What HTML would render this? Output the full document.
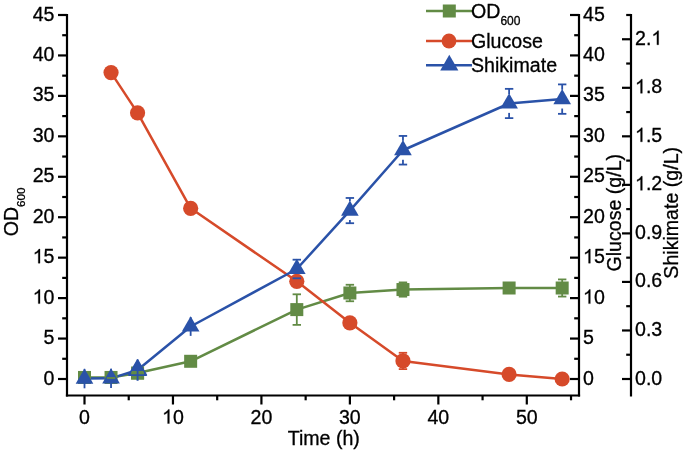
<!DOCTYPE html>
<html><head><meta charset="utf-8"><title>Chart</title>
<style>
html,body{margin:0;padding:0;background:#fff;}
body{width:685px;height:452px;overflow:hidden;font-family:"Liberation Sans",sans-serif;}
svg{display:block;filter:blur(0.35px);}
</style></head>
<body>
<svg width="685" height="452" viewBox="0 0 685 452">
<rect width="685" height="452" fill="#fff"/>
<line x1="67" y1="13.9" x2="67" y2="396.6" stroke="#000" stroke-width="2.2" stroke-linecap="butt"/>
<line x1="58" y1="379" x2="67" y2="379" stroke="#000" stroke-width="2.2" stroke-linecap="butt"/>
<line x1="62.2" y1="358.78" x2="67" y2="358.78" stroke="#000" stroke-width="2.2" stroke-linecap="butt"/>
<line x1="58" y1="338.56" x2="67" y2="338.56" stroke="#000" stroke-width="2.2" stroke-linecap="butt"/>
<line x1="62.2" y1="318.33" x2="67" y2="318.33" stroke="#000" stroke-width="2.2" stroke-linecap="butt"/>
<line x1="58" y1="298.11" x2="67" y2="298.11" stroke="#000" stroke-width="2.2" stroke-linecap="butt"/>
<line x1="62.2" y1="277.89" x2="67" y2="277.89" stroke="#000" stroke-width="2.2" stroke-linecap="butt"/>
<line x1="58" y1="257.66" x2="67" y2="257.66" stroke="#000" stroke-width="2.2" stroke-linecap="butt"/>
<line x1="62.2" y1="237.44" x2="67" y2="237.44" stroke="#000" stroke-width="2.2" stroke-linecap="butt"/>
<line x1="58" y1="217.22" x2="67" y2="217.22" stroke="#000" stroke-width="2.2" stroke-linecap="butt"/>
<line x1="62.2" y1="197" x2="67" y2="197" stroke="#000" stroke-width="2.2" stroke-linecap="butt"/>
<line x1="58" y1="176.77" x2="67" y2="176.77" stroke="#000" stroke-width="2.2" stroke-linecap="butt"/>
<line x1="62.2" y1="156.55" x2="67" y2="156.55" stroke="#000" stroke-width="2.2" stroke-linecap="butt"/>
<line x1="58" y1="136.33" x2="67" y2="136.33" stroke="#000" stroke-width="2.2" stroke-linecap="butt"/>
<line x1="62.2" y1="116.11" x2="67" y2="116.11" stroke="#000" stroke-width="2.2" stroke-linecap="butt"/>
<line x1="58" y1="95.88" x2="67" y2="95.88" stroke="#000" stroke-width="2.2" stroke-linecap="butt"/>
<line x1="62.2" y1="75.66" x2="67" y2="75.66" stroke="#000" stroke-width="2.2" stroke-linecap="butt"/>
<line x1="58" y1="55.44" x2="67" y2="55.44" stroke="#000" stroke-width="2.2" stroke-linecap="butt"/>
<line x1="62.2" y1="35.22" x2="67" y2="35.22" stroke="#000" stroke-width="2.2" stroke-linecap="butt"/>
<line x1="58" y1="15" x2="67" y2="15" stroke="#000" stroke-width="2.2" stroke-linecap="butt"/>
<line x1="579" y1="13.9" x2="579" y2="396.6" stroke="#000" stroke-width="2.2" stroke-linecap="butt"/>
<line x1="570" y1="379" x2="579" y2="379" stroke="#000" stroke-width="2.2" stroke-linecap="butt"/>
<line x1="574.2" y1="358.78" x2="579" y2="358.78" stroke="#000" stroke-width="2.2" stroke-linecap="butt"/>
<line x1="570" y1="338.56" x2="579" y2="338.56" stroke="#000" stroke-width="2.2" stroke-linecap="butt"/>
<line x1="574.2" y1="318.33" x2="579" y2="318.33" stroke="#000" stroke-width="2.2" stroke-linecap="butt"/>
<line x1="570" y1="298.11" x2="579" y2="298.11" stroke="#000" stroke-width="2.2" stroke-linecap="butt"/>
<line x1="574.2" y1="277.89" x2="579" y2="277.89" stroke="#000" stroke-width="2.2" stroke-linecap="butt"/>
<line x1="570" y1="257.66" x2="579" y2="257.66" stroke="#000" stroke-width="2.2" stroke-linecap="butt"/>
<line x1="574.2" y1="237.44" x2="579" y2="237.44" stroke="#000" stroke-width="2.2" stroke-linecap="butt"/>
<line x1="570" y1="217.22" x2="579" y2="217.22" stroke="#000" stroke-width="2.2" stroke-linecap="butt"/>
<line x1="574.2" y1="197" x2="579" y2="197" stroke="#000" stroke-width="2.2" stroke-linecap="butt"/>
<line x1="570" y1="176.77" x2="579" y2="176.77" stroke="#000" stroke-width="2.2" stroke-linecap="butt"/>
<line x1="574.2" y1="156.55" x2="579" y2="156.55" stroke="#000" stroke-width="2.2" stroke-linecap="butt"/>
<line x1="570" y1="136.33" x2="579" y2="136.33" stroke="#000" stroke-width="2.2" stroke-linecap="butt"/>
<line x1="574.2" y1="116.11" x2="579" y2="116.11" stroke="#000" stroke-width="2.2" stroke-linecap="butt"/>
<line x1="570" y1="95.88" x2="579" y2="95.88" stroke="#000" stroke-width="2.2" stroke-linecap="butt"/>
<line x1="574.2" y1="75.66" x2="579" y2="75.66" stroke="#000" stroke-width="2.2" stroke-linecap="butt"/>
<line x1="570" y1="55.44" x2="579" y2="55.44" stroke="#000" stroke-width="2.2" stroke-linecap="butt"/>
<line x1="574.2" y1="35.22" x2="579" y2="35.22" stroke="#000" stroke-width="2.2" stroke-linecap="butt"/>
<line x1="570" y1="15" x2="579" y2="15" stroke="#000" stroke-width="2.2" stroke-linecap="butt"/>
<line x1="65.9" y1="395.5" x2="580.1" y2="395.5" stroke="#000" stroke-width="2.2" stroke-linecap="butt"/>
<line x1="84.5" y1="395.5" x2="84.5" y2="404.5" stroke="#000" stroke-width="2.2" stroke-linecap="butt"/>
<line x1="172.96" y1="395.5" x2="172.96" y2="404.5" stroke="#000" stroke-width="2.2" stroke-linecap="butt"/>
<line x1="261.42" y1="395.5" x2="261.42" y2="404.5" stroke="#000" stroke-width="2.2" stroke-linecap="butt"/>
<line x1="349.88" y1="395.5" x2="349.88" y2="404.5" stroke="#000" stroke-width="2.2" stroke-linecap="butt"/>
<line x1="438.34" y1="395.5" x2="438.34" y2="404.5" stroke="#000" stroke-width="2.2" stroke-linecap="butt"/>
<line x1="526.8" y1="395.5" x2="526.8" y2="404.5" stroke="#000" stroke-width="2.2" stroke-linecap="butt"/>
<line x1="128.73" y1="395.5" x2="128.73" y2="400.3" stroke="#000" stroke-width="2.2" stroke-linecap="butt"/>
<line x1="217.19" y1="395.5" x2="217.19" y2="400.3" stroke="#000" stroke-width="2.2" stroke-linecap="butt"/>
<line x1="305.65" y1="395.5" x2="305.65" y2="400.3" stroke="#000" stroke-width="2.2" stroke-linecap="butt"/>
<line x1="394.11" y1="395.5" x2="394.11" y2="400.3" stroke="#000" stroke-width="2.2" stroke-linecap="butt"/>
<line x1="482.57" y1="395.5" x2="482.57" y2="400.3" stroke="#000" stroke-width="2.2" stroke-linecap="butt"/>
<line x1="571.03" y1="395.5" x2="571.03" y2="400.3" stroke="#000" stroke-width="2.2" stroke-linecap="butt"/>
<line x1="631" y1="13.9" x2="631" y2="396.6" stroke="#000" stroke-width="2.2" stroke-linecap="butt"/>
<line x1="622" y1="379" x2="631" y2="379" stroke="#000" stroke-width="2.2" stroke-linecap="butt"/>
<line x1="622" y1="330.47" x2="631" y2="330.47" stroke="#000" stroke-width="2.2" stroke-linecap="butt"/>
<line x1="622" y1="281.93" x2="631" y2="281.93" stroke="#000" stroke-width="2.2" stroke-linecap="butt"/>
<line x1="622" y1="233.4" x2="631" y2="233.4" stroke="#000" stroke-width="2.2" stroke-linecap="butt"/>
<line x1="622" y1="184.86" x2="631" y2="184.86" stroke="#000" stroke-width="2.2" stroke-linecap="butt"/>
<line x1="622" y1="136.33" x2="631" y2="136.33" stroke="#000" stroke-width="2.2" stroke-linecap="butt"/>
<line x1="622" y1="87.8" x2="631" y2="87.8" stroke="#000" stroke-width="2.2" stroke-linecap="butt"/>
<line x1="622" y1="39.26" x2="631" y2="39.26" stroke="#000" stroke-width="2.2" stroke-linecap="butt"/>
<line x1="626.2" y1="354.73" x2="631" y2="354.73" stroke="#000" stroke-width="2.2" stroke-linecap="butt"/>
<line x1="626.2" y1="306.2" x2="631" y2="306.2" stroke="#000" stroke-width="2.2" stroke-linecap="butt"/>
<line x1="626.2" y1="257.66" x2="631" y2="257.66" stroke="#000" stroke-width="2.2" stroke-linecap="butt"/>
<line x1="626.2" y1="209.13" x2="631" y2="209.13" stroke="#000" stroke-width="2.2" stroke-linecap="butt"/>
<line x1="626.2" y1="160.6" x2="631" y2="160.6" stroke="#000" stroke-width="2.2" stroke-linecap="butt"/>
<line x1="626.2" y1="112.06" x2="631" y2="112.06" stroke="#000" stroke-width="2.2" stroke-linecap="butt"/>
<line x1="626.2" y1="63.53" x2="631" y2="63.53" stroke="#000" stroke-width="2.2" stroke-linecap="butt"/>
<line x1="626.2" y1="15" x2="631" y2="15" stroke="#000" stroke-width="2.2" stroke-linecap="butt"/>
<g transform="translate(43.6,384.5) scale(1,1.045)"><text x="0" y="0" font-family="Liberation Sans, sans-serif" font-size="19.6" fill="#000" stroke="#000" stroke-width="0.3">0</text></g>
<g transform="translate(583,384.5) scale(1,1.045)"><text x="0" y="0" font-family="Liberation Sans, sans-serif" font-size="19.6" fill="#000" stroke="#000" stroke-width="0.3">0</text></g>
<g transform="translate(43.6,344.06) scale(1,1.045)"><text x="0" y="0" font-family="Liberation Sans, sans-serif" font-size="19.6" fill="#000" stroke="#000" stroke-width="0.3">5</text></g>
<g transform="translate(583,344.06) scale(1,1.045)"><text x="0" y="0" font-family="Liberation Sans, sans-serif" font-size="19.6" fill="#000" stroke="#000" stroke-width="0.3">5</text></g>
<g transform="translate(32.7,303.61) scale(1,1.045)"><path d="M763 0L583 0L583 1147Q518 1085 412 1023Q307 961 223 930L223 1104Q374 1175 487 1276Q600 1377 647 1472L763 1472Z" transform="translate(0,0) scale(0.009570,-0.009158)" fill="#000" stroke="#000" stroke-width="0.3" vector-effect="non-scaling-stroke"/><text x="10.9" y="0" font-family="Liberation Sans, sans-serif" font-size="19.6" fill="#000" stroke="#000" stroke-width="0.3">0</text></g>
<g transform="translate(583,303.61) scale(1,1.045)"><path d="M763 0L583 0L583 1147Q518 1085 412 1023Q307 961 223 930L223 1104Q374 1175 487 1276Q600 1377 647 1472L763 1472Z" transform="translate(0,0) scale(0.009570,-0.009158)" fill="#000" stroke="#000" stroke-width="0.3" vector-effect="non-scaling-stroke"/><text x="10.9" y="0" font-family="Liberation Sans, sans-serif" font-size="19.6" fill="#000" stroke="#000" stroke-width="0.3">0</text></g>
<g transform="translate(32.7,263.16) scale(1,1.045)"><path d="M763 0L583 0L583 1147Q518 1085 412 1023Q307 961 223 930L223 1104Q374 1175 487 1276Q600 1377 647 1472L763 1472Z" transform="translate(0,0) scale(0.009570,-0.009158)" fill="#000" stroke="#000" stroke-width="0.3" vector-effect="non-scaling-stroke"/><text x="10.9" y="0" font-family="Liberation Sans, sans-serif" font-size="19.6" fill="#000" stroke="#000" stroke-width="0.3">5</text></g>
<g transform="translate(583,263.16) scale(1,1.045)"><path d="M763 0L583 0L583 1147Q518 1085 412 1023Q307 961 223 930L223 1104Q374 1175 487 1276Q600 1377 647 1472L763 1472Z" transform="translate(0,0) scale(0.009570,-0.009158)" fill="#000" stroke="#000" stroke-width="0.3" vector-effect="non-scaling-stroke"/><text x="10.9" y="0" font-family="Liberation Sans, sans-serif" font-size="19.6" fill="#000" stroke="#000" stroke-width="0.3">5</text></g>
<g transform="translate(32.7,222.72) scale(1,1.045)"><text x="0" y="0" font-family="Liberation Sans, sans-serif" font-size="19.6" fill="#000" stroke="#000" stroke-width="0.3">2</text><text x="10.9" y="0" font-family="Liberation Sans, sans-serif" font-size="19.6" fill="#000" stroke="#000" stroke-width="0.3">0</text></g>
<g transform="translate(583,222.72) scale(1,1.045)"><text x="0" y="0" font-family="Liberation Sans, sans-serif" font-size="19.6" fill="#000" stroke="#000" stroke-width="0.3">2</text><text x="10.9" y="0" font-family="Liberation Sans, sans-serif" font-size="19.6" fill="#000" stroke="#000" stroke-width="0.3">0</text></g>
<g transform="translate(32.7,182.27) scale(1,1.045)"><text x="0" y="0" font-family="Liberation Sans, sans-serif" font-size="19.6" fill="#000" stroke="#000" stroke-width="0.3">2</text><text x="10.9" y="0" font-family="Liberation Sans, sans-serif" font-size="19.6" fill="#000" stroke="#000" stroke-width="0.3">5</text></g>
<g transform="translate(583,182.27) scale(1,1.045)"><text x="0" y="0" font-family="Liberation Sans, sans-serif" font-size="19.6" fill="#000" stroke="#000" stroke-width="0.3">2</text><text x="10.9" y="0" font-family="Liberation Sans, sans-serif" font-size="19.6" fill="#000" stroke="#000" stroke-width="0.3">5</text></g>
<g transform="translate(32.7,141.83) scale(1,1.045)"><text x="0" y="0" font-family="Liberation Sans, sans-serif" font-size="19.6" fill="#000" stroke="#000" stroke-width="0.3">3</text><text x="10.9" y="0" font-family="Liberation Sans, sans-serif" font-size="19.6" fill="#000" stroke="#000" stroke-width="0.3">0</text></g>
<g transform="translate(583,141.83) scale(1,1.045)"><text x="0" y="0" font-family="Liberation Sans, sans-serif" font-size="19.6" fill="#000" stroke="#000" stroke-width="0.3">3</text><text x="10.9" y="0" font-family="Liberation Sans, sans-serif" font-size="19.6" fill="#000" stroke="#000" stroke-width="0.3">0</text></g>
<g transform="translate(32.7,101.38) scale(1,1.045)"><text x="0" y="0" font-family="Liberation Sans, sans-serif" font-size="19.6" fill="#000" stroke="#000" stroke-width="0.3">3</text><text x="10.9" y="0" font-family="Liberation Sans, sans-serif" font-size="19.6" fill="#000" stroke="#000" stroke-width="0.3">5</text></g>
<g transform="translate(583,101.38) scale(1,1.045)"><text x="0" y="0" font-family="Liberation Sans, sans-serif" font-size="19.6" fill="#000" stroke="#000" stroke-width="0.3">3</text><text x="10.9" y="0" font-family="Liberation Sans, sans-serif" font-size="19.6" fill="#000" stroke="#000" stroke-width="0.3">5</text></g>
<g transform="translate(32.7,60.94) scale(1,1.045)"><text x="0" y="0" font-family="Liberation Sans, sans-serif" font-size="19.6" fill="#000" stroke="#000" stroke-width="0.3">4</text><text x="10.9" y="0" font-family="Liberation Sans, sans-serif" font-size="19.6" fill="#000" stroke="#000" stroke-width="0.3">0</text></g>
<g transform="translate(583,60.94) scale(1,1.045)"><text x="0" y="0" font-family="Liberation Sans, sans-serif" font-size="19.6" fill="#000" stroke="#000" stroke-width="0.3">4</text><text x="10.9" y="0" font-family="Liberation Sans, sans-serif" font-size="19.6" fill="#000" stroke="#000" stroke-width="0.3">0</text></g>
<g transform="translate(32.7,20.5) scale(1,1.045)"><text x="0" y="0" font-family="Liberation Sans, sans-serif" font-size="19.6" fill="#000" stroke="#000" stroke-width="0.3">4</text><text x="10.9" y="0" font-family="Liberation Sans, sans-serif" font-size="19.6" fill="#000" stroke="#000" stroke-width="0.3">5</text></g>
<g transform="translate(583,20.5) scale(1,1.045)"><text x="0" y="0" font-family="Liberation Sans, sans-serif" font-size="19.6" fill="#000" stroke="#000" stroke-width="0.3">4</text><text x="10.9" y="0" font-family="Liberation Sans, sans-serif" font-size="19.6" fill="#000" stroke="#000" stroke-width="0.3">5</text></g>
<g transform="translate(635,384.5) scale(1,1.045)"><text x="0" y="0" font-family="Liberation Sans, sans-serif" font-size="19.6" fill="#000" stroke="#000" stroke-width="0.3">0</text><text x="10.9" y="0" font-family="Liberation Sans, sans-serif" font-size="19.6" fill="#000" stroke="#000" stroke-width="0.3">.</text><text x="16.35" y="0" font-family="Liberation Sans, sans-serif" font-size="19.6" fill="#000" stroke="#000" stroke-width="0.3">0</text></g>
<g transform="translate(635,335.97) scale(1,1.045)"><text x="0" y="0" font-family="Liberation Sans, sans-serif" font-size="19.6" fill="#000" stroke="#000" stroke-width="0.3">0</text><text x="10.9" y="0" font-family="Liberation Sans, sans-serif" font-size="19.6" fill="#000" stroke="#000" stroke-width="0.3">.</text><text x="16.35" y="0" font-family="Liberation Sans, sans-serif" font-size="19.6" fill="#000" stroke="#000" stroke-width="0.3">3</text></g>
<g transform="translate(635,287.43) scale(1,1.045)"><text x="0" y="0" font-family="Liberation Sans, sans-serif" font-size="19.6" fill="#000" stroke="#000" stroke-width="0.3">0</text><text x="10.9" y="0" font-family="Liberation Sans, sans-serif" font-size="19.6" fill="#000" stroke="#000" stroke-width="0.3">.</text><text x="16.35" y="0" font-family="Liberation Sans, sans-serif" font-size="19.6" fill="#000" stroke="#000" stroke-width="0.3">6</text></g>
<g transform="translate(635,238.9) scale(1,1.045)"><text x="0" y="0" font-family="Liberation Sans, sans-serif" font-size="19.6" fill="#000" stroke="#000" stroke-width="0.3">0</text><text x="10.9" y="0" font-family="Liberation Sans, sans-serif" font-size="19.6" fill="#000" stroke="#000" stroke-width="0.3">.</text><text x="16.35" y="0" font-family="Liberation Sans, sans-serif" font-size="19.6" fill="#000" stroke="#000" stroke-width="0.3">9</text></g>
<g transform="translate(635,190.36) scale(1,1.045)"><path d="M763 0L583 0L583 1147Q518 1085 412 1023Q307 961 223 930L223 1104Q374 1175 487 1276Q600 1377 647 1472L763 1472Z" transform="translate(0,0) scale(0.009570,-0.009158)" fill="#000" stroke="#000" stroke-width="0.3" vector-effect="non-scaling-stroke"/><text x="10.9" y="0" font-family="Liberation Sans, sans-serif" font-size="19.6" fill="#000" stroke="#000" stroke-width="0.3">.</text><text x="16.35" y="0" font-family="Liberation Sans, sans-serif" font-size="19.6" fill="#000" stroke="#000" stroke-width="0.3">2</text></g>
<g transform="translate(635,141.83) scale(1,1.045)"><path d="M763 0L583 0L583 1147Q518 1085 412 1023Q307 961 223 930L223 1104Q374 1175 487 1276Q600 1377 647 1472L763 1472Z" transform="translate(0,0) scale(0.009570,-0.009158)" fill="#000" stroke="#000" stroke-width="0.3" vector-effect="non-scaling-stroke"/><text x="10.9" y="0" font-family="Liberation Sans, sans-serif" font-size="19.6" fill="#000" stroke="#000" stroke-width="0.3">.</text><text x="16.35" y="0" font-family="Liberation Sans, sans-serif" font-size="19.6" fill="#000" stroke="#000" stroke-width="0.3">5</text></g>
<g transform="translate(635,93.3) scale(1,1.045)"><path d="M763 0L583 0L583 1147Q518 1085 412 1023Q307 961 223 930L223 1104Q374 1175 487 1276Q600 1377 647 1472L763 1472Z" transform="translate(0,0) scale(0.009570,-0.009158)" fill="#000" stroke="#000" stroke-width="0.3" vector-effect="non-scaling-stroke"/><text x="10.9" y="0" font-family="Liberation Sans, sans-serif" font-size="19.6" fill="#000" stroke="#000" stroke-width="0.3">.</text><text x="16.35" y="0" font-family="Liberation Sans, sans-serif" font-size="19.6" fill="#000" stroke="#000" stroke-width="0.3">8</text></g>
<g transform="translate(635,44.76) scale(1,1.045)"><text x="0" y="0" font-family="Liberation Sans, sans-serif" font-size="19.6" fill="#000" stroke="#000" stroke-width="0.3">2</text><text x="10.9" y="0" font-family="Liberation Sans, sans-serif" font-size="19.6" fill="#000" stroke="#000" stroke-width="0.3">.</text><path d="M763 0L583 0L583 1147Q518 1085 412 1023Q307 961 223 930L223 1104Q374 1175 487 1276Q600 1377 647 1472L763 1472Z" transform="translate(16.35,0) scale(0.009570,-0.009158)" fill="#000" stroke="#000" stroke-width="0.3" vector-effect="non-scaling-stroke"/></g>
<g transform="translate(79.05,423.5) scale(1,1.045)"><text x="0" y="0" font-family="Liberation Sans, sans-serif" font-size="19.6" fill="#000" stroke="#000" stroke-width="0.3">0</text></g>
<g transform="translate(162.06,423.5) scale(1,1.045)"><path d="M763 0L583 0L583 1147Q518 1085 412 1023Q307 961 223 930L223 1104Q374 1175 487 1276Q600 1377 647 1472L763 1472Z" transform="translate(0,0) scale(0.009570,-0.009158)" fill="#000" stroke="#000" stroke-width="0.3" vector-effect="non-scaling-stroke"/><text x="10.9" y="0" font-family="Liberation Sans, sans-serif" font-size="19.6" fill="#000" stroke="#000" stroke-width="0.3">0</text></g>
<g transform="translate(250.52,423.5) scale(1,1.045)"><text x="0" y="0" font-family="Liberation Sans, sans-serif" font-size="19.6" fill="#000" stroke="#000" stroke-width="0.3">2</text><text x="10.9" y="0" font-family="Liberation Sans, sans-serif" font-size="19.6" fill="#000" stroke="#000" stroke-width="0.3">0</text></g>
<g transform="translate(338.98,423.5) scale(1,1.045)"><text x="0" y="0" font-family="Liberation Sans, sans-serif" font-size="19.6" fill="#000" stroke="#000" stroke-width="0.3">3</text><text x="10.9" y="0" font-family="Liberation Sans, sans-serif" font-size="19.6" fill="#000" stroke="#000" stroke-width="0.3">0</text></g>
<g transform="translate(427.44,423.5) scale(1,1.045)"><text x="0" y="0" font-family="Liberation Sans, sans-serif" font-size="19.6" fill="#000" stroke="#000" stroke-width="0.3">4</text><text x="10.9" y="0" font-family="Liberation Sans, sans-serif" font-size="19.6" fill="#000" stroke="#000" stroke-width="0.3">0</text></g>
<g transform="translate(515.9,423.5) scale(1,1.045)"><text x="0" y="0" font-family="Liberation Sans, sans-serif" font-size="19.6" fill="#000" stroke="#000" stroke-width="0.3">5</text><text x="10.9" y="0" font-family="Liberation Sans, sans-serif" font-size="19.6" fill="#000" stroke="#000" stroke-width="0.3">0</text></g>
<text x="323.8" y="444.5" text-anchor="middle" font-family="Liberation Sans, sans-serif" font-size="19.6" fill="#000" stroke="#000" stroke-width="0.3" >Time (h)</text>
<text transform="translate(17.7,212.0) rotate(-90)" text-anchor="middle" font-family="Liberation Sans, sans-serif" font-size="19.6" fill="#000" stroke="#000" stroke-width="0.3">OD<tspan font-size="11.6" dy="7.3">600</tspan></text>
<text transform="translate(620.7,212.7) rotate(-90)" text-anchor="middle" font-family="Liberation Sans, sans-serif" font-size="19.6" fill="#000" stroke="#000" stroke-width="0.3">Glucose (g/L)</text>
<text transform="translate(677.6,212.8) rotate(-90)" text-anchor="middle" font-family="Liberation Sans, sans-serif" font-size="19.6" fill="#000" stroke="#000" stroke-width="0.3">Shikimate (g/L)</text>
<polyline points="84.5,377.46 111.04,377.46 137.58,373.01 190.65,361.29 296.8,309.6 349.88,293.01 402.96,289.54 509.11,288 562.18,288" fill="none" stroke="#628B45" stroke-width="2.5" stroke-linejoin="round"/>
<polyline points="111.04,72.59 137.58,112.87 190.65,208.32 296.8,281.28 349.88,322.78 402.96,360.96 509.11,374.47 562.18,379" fill="none" stroke="#D64A2A" stroke-width="2.5" stroke-linejoin="round"/>
<polyline points="84.5,378.6 111.04,378.35 137.58,370.02 190.65,326.5 296.8,268.99 349.88,210.59 402.96,150.24 509.11,103.49 562.18,99.12" fill="none" stroke="#2A52A8" stroke-width="2.5" stroke-linejoin="round"/>
<line x1="296.8" y1="294.31" x2="296.8" y2="324.88" stroke="#628B45" stroke-width="1.8" stroke-linecap="butt"/>
<line x1="292.6" y1="294.31" x2="301" y2="294.31" stroke="#628B45" stroke-width="1.8" stroke-linecap="butt"/>
<line x1="292.6" y1="324.88" x2="301" y2="324.88" stroke="#628B45" stroke-width="1.8" stroke-linecap="butt"/>
<line x1="349.88" y1="284.76" x2="349.88" y2="301.26" stroke="#628B45" stroke-width="1.8" stroke-linecap="butt"/>
<line x1="345.68" y1="284.76" x2="354.08" y2="284.76" stroke="#628B45" stroke-width="1.8" stroke-linecap="butt"/>
<line x1="345.68" y1="301.26" x2="354.08" y2="301.26" stroke="#628B45" stroke-width="1.8" stroke-linecap="butt"/>
<line x1="402.96" y1="282.42" x2="402.96" y2="296.65" stroke="#628B45" stroke-width="1.8" stroke-linecap="butt"/>
<line x1="398.76" y1="282.42" x2="407.16" y2="282.42" stroke="#628B45" stroke-width="1.8" stroke-linecap="butt"/>
<line x1="398.76" y1="296.65" x2="407.16" y2="296.65" stroke="#628B45" stroke-width="1.8" stroke-linecap="butt"/>
<line x1="562.18" y1="279.42" x2="562.18" y2="296.57" stroke="#628B45" stroke-width="1.8" stroke-linecap="butt"/>
<line x1="557.98" y1="279.42" x2="566.38" y2="279.42" stroke="#628B45" stroke-width="1.8" stroke-linecap="butt"/>
<line x1="557.98" y1="296.57" x2="566.38" y2="296.57" stroke="#628B45" stroke-width="1.8" stroke-linecap="butt"/>
<rect x="78" y="370.96" width="13" height="13" fill="#628B45"/>
<rect x="104.54" y="370.96" width="13" height="13" fill="#628B45"/>
<rect x="131.08" y="366.51" width="13" height="13" fill="#628B45"/>
<rect x="184.15" y="354.79" width="13" height="13" fill="#628B45"/>
<rect x="290.3" y="303.1" width="13" height="13" fill="#628B45"/>
<rect x="343.38" y="286.51" width="13" height="13" fill="#628B45"/>
<rect x="396.46" y="283.04" width="13" height="13" fill="#628B45"/>
<rect x="502.61" y="281.5" width="13" height="13" fill="#628B45"/>
<rect x="555.68" y="281.5" width="13" height="13" fill="#628B45"/>
<line x1="402.96" y1="352.79" x2="402.96" y2="369.13" stroke="#D64A2A" stroke-width="1.8" stroke-linecap="butt"/>
<line x1="398.76" y1="352.79" x2="407.16" y2="352.79" stroke="#D64A2A" stroke-width="1.8" stroke-linecap="butt"/>
<line x1="398.76" y1="369.13" x2="407.16" y2="369.13" stroke="#D64A2A" stroke-width="1.8" stroke-linecap="butt"/>
<circle cx="111.04" cy="72.59" r="7.6" fill="#D64A2A"/>
<circle cx="137.58" cy="112.87" r="7.6" fill="#D64A2A"/>
<circle cx="190.65" cy="208.32" r="7.6" fill="#D64A2A"/>
<circle cx="296.8" cy="281.28" r="7.6" fill="#D64A2A"/>
<circle cx="349.88" cy="322.78" r="7.6" fill="#D64A2A"/>
<circle cx="402.96" cy="360.96" r="7.6" fill="#D64A2A"/>
<circle cx="509.11" cy="374.47" r="7.6" fill="#D64A2A"/>
<circle cx="562.18" cy="379" r="7.6" fill="#D64A2A"/>
<line x1="84.5" y1="368.89" x2="84.5" y2="388.3" stroke="#2A52A8" stroke-width="1.8" stroke-linecap="butt"/>
<line x1="111.04" y1="368.65" x2="111.04" y2="388.06" stroke="#2A52A8" stroke-width="1.8" stroke-linecap="butt"/>
<line x1="137.58" y1="359.51" x2="137.58" y2="380.54" stroke="#2A52A8" stroke-width="1.8" stroke-linecap="butt"/>
<line x1="190.65" y1="317.12" x2="190.65" y2="335.89" stroke="#2A52A8" stroke-width="1.8" stroke-linecap="butt"/>
<line x1="292.6" y1="259.69" x2="301" y2="259.69" stroke="#2A52A8" stroke-width="1.8" stroke-linecap="butt"/>
<line x1="292.6" y1="278.29" x2="301" y2="278.29" stroke="#2A52A8" stroke-width="1.8" stroke-linecap="butt"/>
<line x1="349.88" y1="197.97" x2="349.88" y2="201.19" stroke="#2A52A8" stroke-width="1.8" stroke-linecap="butt"/>
<line x1="349.88" y1="219.99" x2="349.88" y2="223.21" stroke="#2A52A8" stroke-width="1.8" stroke-linecap="butt"/>
<line x1="345.68" y1="197.97" x2="354.08" y2="197.97" stroke="#2A52A8" stroke-width="1.8" stroke-linecap="butt"/>
<line x1="345.68" y1="223.21" x2="354.08" y2="223.21" stroke="#2A52A8" stroke-width="1.8" stroke-linecap="butt"/>
<line x1="402.96" y1="135.93" x2="402.96" y2="140.84" stroke="#2A52A8" stroke-width="1.8" stroke-linecap="butt"/>
<line x1="402.96" y1="159.64" x2="402.96" y2="164.56" stroke="#2A52A8" stroke-width="1.8" stroke-linecap="butt"/>
<line x1="398.76" y1="135.93" x2="407.16" y2="135.93" stroke="#2A52A8" stroke-width="1.8" stroke-linecap="butt"/>
<line x1="398.76" y1="164.56" x2="407.16" y2="164.56" stroke="#2A52A8" stroke-width="1.8" stroke-linecap="butt"/>
<line x1="509.11" y1="88.85" x2="509.11" y2="94.09" stroke="#2A52A8" stroke-width="1.8" stroke-linecap="butt"/>
<line x1="509.11" y1="112.89" x2="509.11" y2="118.13" stroke="#2A52A8" stroke-width="1.8" stroke-linecap="butt"/>
<line x1="504.91" y1="88.85" x2="513.31" y2="88.85" stroke="#2A52A8" stroke-width="1.8" stroke-linecap="butt"/>
<line x1="504.91" y1="118.13" x2="513.31" y2="118.13" stroke="#2A52A8" stroke-width="1.8" stroke-linecap="butt"/>
<line x1="562.18" y1="84.4" x2="562.18" y2="89.72" stroke="#2A52A8" stroke-width="1.8" stroke-linecap="butt"/>
<line x1="562.18" y1="108.52" x2="562.18" y2="113.84" stroke="#2A52A8" stroke-width="1.8" stroke-linecap="butt"/>
<line x1="557.98" y1="84.4" x2="566.38" y2="84.4" stroke="#2A52A8" stroke-width="1.8" stroke-linecap="butt"/>
<line x1="557.98" y1="113.84" x2="566.38" y2="113.84" stroke="#2A52A8" stroke-width="1.8" stroke-linecap="butt"/>
<polygon points="84.5,368.4 93.33,383.7 75.67,383.7" fill="#2A52A8"/>
<polygon points="111.04,368.15 119.87,383.45 102.2,383.45" fill="#2A52A8"/>
<polygon points="137.58,359.82 146.41,375.12 128.74,375.12" fill="#2A52A8"/>
<polygon points="190.65,316.3 199.49,331.6 181.82,331.6" fill="#2A52A8"/>
<polygon points="296.8,258.79 305.64,274.09 287.97,274.09" fill="#2A52A8"/>
<polygon points="349.88,200.39 358.71,215.69 341.05,215.69" fill="#2A52A8"/>
<polygon points="402.96,140.04 411.79,155.34 394.12,155.34" fill="#2A52A8"/>
<polygon points="509.11,93.29 517.94,108.59 500.27,108.59" fill="#2A52A8"/>
<polygon points="562.18,88.92 571.02,104.22 553.35,104.22" fill="#2A52A8"/>
<clipPath id="c6"><rect x="127.58" y="371.01" width="20" height="20"/></clipPath>
<rect x="131.08" y="366.51" width="13" height="13" fill="#628B45" clip-path="url(#c6)"/>
<polygon points="137.58,359.82 146.41,375.12 128.74,375.12" fill="none" stroke="#2A52A8" stroke-width="1.6" stroke-linejoin="round"/>
<line x1="137.58" y1="370.02" x2="137.58" y2="380.54" stroke="#2A52A8" stroke-width="1.8" stroke-linecap="butt"/>
<line x1="106.84" y1="378" x2="115.24" y2="378" stroke="#628B45" stroke-width="1.8" stroke-linecap="butt"/>
<line x1="426" y1="11.1" x2="472" y2="11.1" stroke="#628B45" stroke-width="2.5" stroke-linecap="butt"/>
<rect x="442.8" y="4.5" width="13" height="13" fill="#628B45"/>
<line x1="426" y1="41.1" x2="472" y2="41.1" stroke="#D64A2A" stroke-width="2.5" stroke-linecap="butt"/>
<circle cx="449" cy="41" r="7.4" fill="#D64A2A"/>
<line x1="426" y1="65.3" x2="472" y2="65.3" stroke="#2A52A8" stroke-width="2.5" stroke-linecap="butt"/>
<polygon points="449.3,54.8 458.39,70.55 440.21,70.55" fill="#2A52A8"/>
<text x="471" y="18.1" font-family="Liberation Sans, sans-serif" font-size="19.6" fill="#000" stroke="#000" stroke-width="0.3">OD<tspan font-size="12" dy="7.0">600</tspan></text>
<text x="471" y="47.6" text-anchor="start" font-family="Liberation Sans, sans-serif" font-size="19.6" fill="#000" stroke="#000" stroke-width="0.3" >Glucose</text>
<text x="471" y="71.8" text-anchor="start" font-family="Liberation Sans, sans-serif" font-size="19.6" fill="#000" stroke="#000" stroke-width="0.3" >Shikimate</text>
</svg>
</body></html>
